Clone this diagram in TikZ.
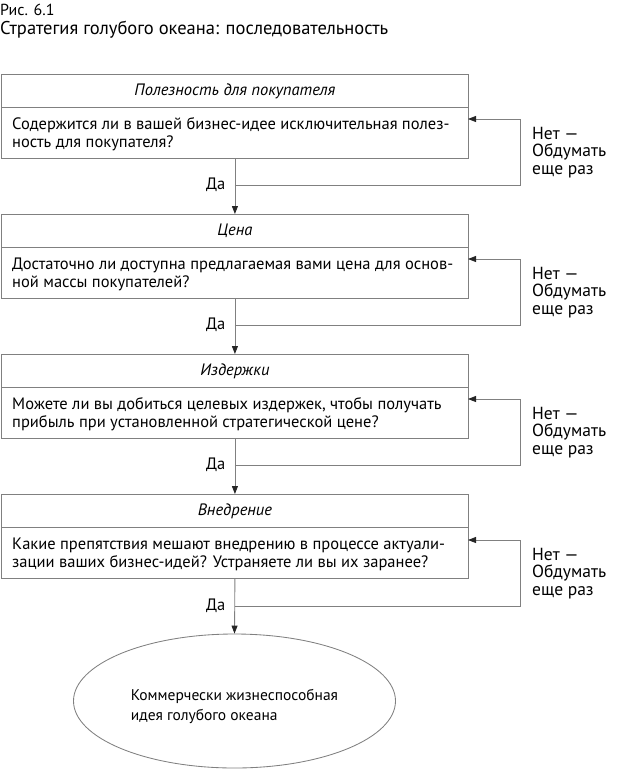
\documentclass[tikz,border=0pt]{standalone}
\usepackage{fontspec}
\setmainfont{PT Sans}
\usetikzlibrary{arrows.meta,shapes.geometric}
\newcommand\bodyfs{\fontsize{16.5}{17.5}\selectfont}
\newcommand\sidefs{\fontsize{17.5}{17.5}\selectfont}
\newcommand\titlefs{\fontsize{18.5}{20}\selectfont}
\newcommand\figfs{\fontsize{16}{18}\selectfont}
\newcommand\ellfs{\fontsize{15.5}{20}\selectfont}
\begin{document}
\begin{tikzpicture}[x=1pt,y=-1pt,
  ln/.style={draw=black!50, line width=0.85pt},
  arr/.style={ln, -{Triangle[length=8pt,width=6pt,color=black!85]}},
  hdr/.style={ln, anchor=north west, minimum width=467pt, minimum height=33pt, inner sep=0pt, font=\bodyfs\itshape},
  bdy/.style={ln, anchor=north west, minimum width=467pt, minimum height=51pt, inner sep=0pt},
  btxt/.style={anchor=west, inner sep=0pt, align=left, font=\bodyfs},
  lbl/.style={font=\bodyfs, inner sep=0pt},
  nolbl/.style={font=\sidefs, inner sep=0pt, anchor=base west, align=left},
]
\useasboundingbox (0,0) rectangle (630,774);
\node[font=\figfs, inner sep=0pt, anchor=base west] (fig) at (0,15) {Рис. 6.1};
\node[font=\titlefs, inner sep=0pt, anchor=base west] (title) at (0,34) {Стратегия голубого океана: последовательность};

\node[hdr] (h1) at (1,74) {Полезность для покупателя};
\node[bdy] (b1) at (1,107) {};
\node[btxt] (bt1) at ([xshift=11pt,yshift=-1.5pt]b1.west) {Содержится ли в вашей бизнес-идее исключительная полез-\\ность для покупателя?};
\node[hdr] (h2) at (1,214) {Цена};
\node[bdy] (b2) at (1,247) {};
\node[btxt] (bt2) at ([xshift=11pt,yshift=-1.5pt]b2.west) {Достаточно ли доступна предлагаемая вами цена для основ-\\ной массы покупателей?};
\node[hdr] (h3) at (1,354) {Издержки};
\node[bdy] (b3) at (1,387) {};
\node[btxt] (bt3) at ([xshift=11pt,yshift=-1.5pt]b3.west) {Можете ли вы добиться целевых издержек, чтобы получать\\прибыль при установленной стратегической цене?};
\node[hdr] (h4) at (1,494) {Внедрение};
\node[bdy] (b4) at (1,527) {};
\node[btxt] (bt4) at ([xshift=11pt,yshift=-1.5pt]b4.west) {Какие препятствия мешают внедрению в процессе актуали-\\зации ваших бизнес-идей? Устраняете ли вы их заранее?};

\node[ellipse, ln, minimum width=322pt, minimum height=134pt] (goal) at (234.5,701) {};
\node[align=left, font=\ellfs, inner sep=0pt] (goaltxt) at ([yshift=-5pt]goal.center) {Коммерчески жизнеспособная\\идея голубого океана};

\draw[arr] (b1.south) -- (h2.north);
\draw[arr] (b2.south) -- (h3.north);
\draw[arr] (b3.south) -- (h4.north);
\draw[arr] (b4.south) -- (goal.north);

\foreach \i/\jy/\ey in {1/185/119, 2/325/259, 3/465/399, 4/606/540}{
  \coordinate (j\i) at (234.5,\jy);
  \coordinate (t\i) at (520,\ey);
  \coordinate (e\i) at (468,\ey);
  \draw[arr] (j\i) -| (t\i) -- (e\i);
  \node[lbl, anchor=east] (da\i) at ([xshift=-9pt]j\i) {Да};
  \node[nolbl] (no\i) at (532,\ey+55) {Нет —\\Обдумать\\еще раз};
}
\end{tikzpicture}
\end{document}
